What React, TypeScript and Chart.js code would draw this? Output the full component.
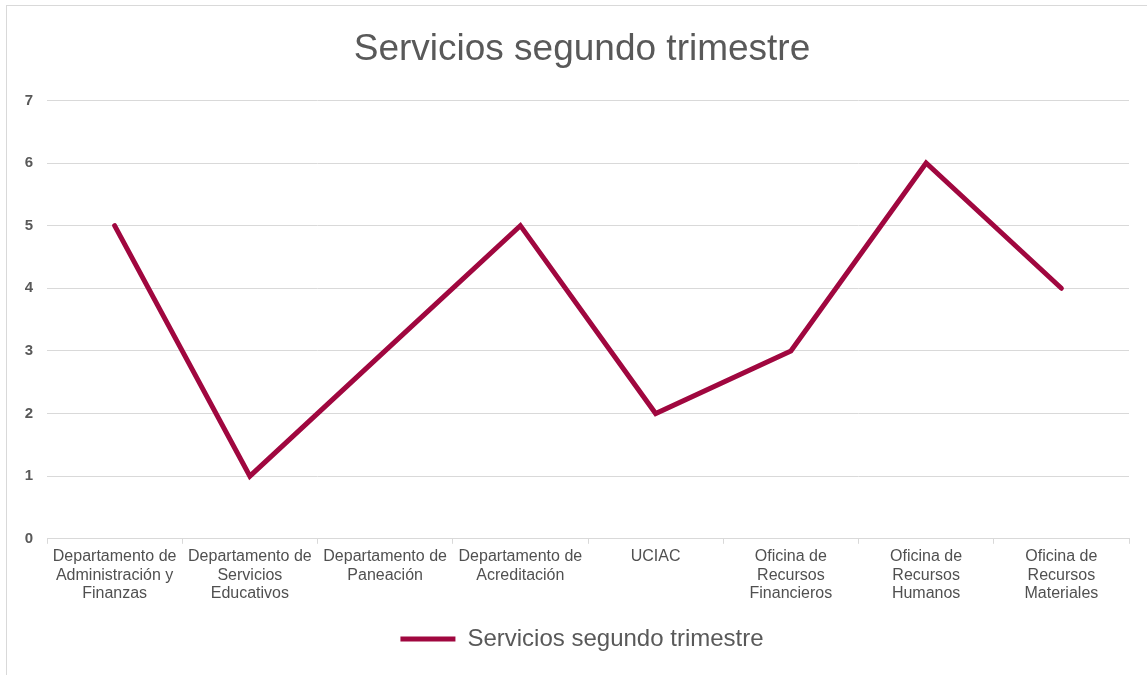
import React, { useEffect, useRef } from "react";
import { Chart, registerables } from "chart.js";

Chart.register(...registerables);

const chartTitle = "Servicios segundo trimestre";
const seriesLabel = "Servicios segundo trimestre";
const categories: string[][] = [
  ["Departamento de", "Administración y", "Finanzas"],
  ["Departamento de", "Servicios", "Educativos"],
  ["Departamento de", "Paneación"],
  ["Departamento de", "Acreditación"],
  ["UCIAC"],
  ["Oficina de", "Recursos", "Financieros"],
  ["Oficina de", "Recursos", "Humanos"],
  ["Oficina de", "Recursos", "Materiales"],
];
const values: number[] = [5, 1, 3, 5, 2, 3, 6, 4];
const yMin = 0;
const yMax = 7;
const yStep = 1;

const LINE_COLOR = "#A0073F";
const TEXT_COLOR = "#595959";
const GRID_COLOR = "#D9D9D9";
const FONT = "'Liberation Sans', Arial, sans-serif";

const borderPlugin = {
  id: "outerBorder",
  beforeDraw(chart: any) {
    const ctx = chart.ctx;
    ctx.save();
    ctx.strokeStyle = GRID_COLOR;
    ctx.lineWidth = 1;
    ctx.strokeRect(6.5, 5.5, 1300, 1000);
    ctx.restore();
  },
};

export default function App() {
  const ref = useRef<HTMLCanvasElement | null>(null);

  useEffect(() => {
    document.body.style.margin = "0";
    if (!ref.current) return;
    const chart = new Chart(ref.current, {
      type: "line",
      data: {
        labels: categories,
        datasets: [
          {
            label: seriesLabel,
            data: values,
            borderColor: LINE_COLOR,
            backgroundColor: LINE_COLOR,
            borderWidth: 5,
            pointRadius: 0,
            pointHoverRadius: 0,
            tension: 0,
            borderCapStyle: "round",
            borderJoinStyle: "miter",
            pointStyle: "line",
          },
        ],
      },
      options: {
        responsive: false,
        animation: false,
        maintainAspectRatio: false,
        layout: { padding: { left: 25, right: 8, top: 0, bottom: 14 } },
        plugins: {
          title: {
            display: true,
            text: chartTitle,
            color: TEXT_COLOR,
            font: { family: FONT, size: 37, weight: "normal" },
            padding: { top: 28, bottom: 28 },
          },
          legend: {
            display: true,
            position: "bottom",
            labels: {
              usePointStyle: true,
              pointStyle: "line",
              pointStyleWidth: 55,
              color: TEXT_COLOR,
              font: { family: FONT, size: 24 },
              padding: 20,
            },
          },
          tooltip: { enabled: false },
        },
        scales: {
          x: {
            type: "category",
            offset: true,
            afterFit(scale: any) {
              scale.paddingLeft = 0;
              scale.paddingRight = 0;
            },
            grid: {
              display: true,
              drawOnChartArea: false,
              drawTicks: true,
              tickLength: 5,
              color: GRID_COLOR,
              offset: true,
            },
            border: { display: true, color: GRID_COLOR, width: 1 },
            ticks: {
              color: "#505050",
              font: { family: FONT, size: 16, lineHeight: 1.15 },
              padding: 4,
              maxRotation: 0,
              autoSkip: false,
            },
          },
          y: {
            min: yMin,
            max: yMax,
            afterFit(scale: any) {
              scale.width = 22;
            },
            grid: { color: GRID_COLOR, drawTicks: false, lineWidth: 1 },
            border: { display: false },
            ticks: {
              stepSize: yStep,
              color: TEXT_COLOR,
              font: { family: FONT, size: 15, weight: "bold" },
              padding: 14,
            },
          },
          yRightSpacer: {
            type: "linear",
            position: "right",
            display: true,
            afterFit(scale: any) {
              scale.width = 10;
            },
            grid: { display: false, drawTicks: false },
            border: { display: false },
            ticks: { display: false },
          },
        },
      },
      plugins: [borderPlugin],
    });
    return () => chart.destroy();
  }, []);

  return (
    <div style={{ width: 1147, height: 675 }}>
      <canvas ref={ref} width={1147} height={675} style={{ display: "block" }} />
    </div>
  );
}
